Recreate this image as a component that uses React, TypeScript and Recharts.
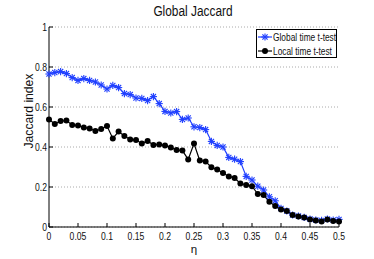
import React from 'react';
import { LineChart, Line, XAxis, YAxis, CartesianGrid } from 'recharts';

const eta = [0, 0.01, 0.02, 0.03, 0.04, 0.05, 0.06, 0.07, 0.08, 0.09, 0.1, 0.11, 0.12, 0.13, 0.14, 0.15, 0.16, 0.17, 0.18, 0.19, 0.2, 0.21, 0.22, 0.23, 0.24, 0.25, 0.26, 0.27, 0.28, 0.29, 0.3, 0.31, 0.32, 0.33, 0.34, 0.35, 0.36, 0.37, 0.38, 0.39, 0.4, 0.41, 0.42, 0.43, 0.44, 0.45, 0.46, 0.47, 0.48, 0.49, 0.5];

const globalT = [0.765, 0.772, 0.777, 0.767, 0.747, 0.733, 0.742, 0.733, 0.725, 0.71, 0.69, 0.708, 0.697, 0.667, 0.662, 0.645, 0.643, 0.632, 0.652, 0.617, 0.578, 0.57, 0.577, 0.538, 0.545, 0.501, 0.497, 0.487, 0.428, 0.408, 0.4, 0.348, 0.339, 0.327, 0.253, 0.235, 0.204, 0.185, 0.151, 0.131, 0.093, 0.08, 0.06, 0.055, 0.048, 0.04, 0.035, 0.033, 0.04, 0.035, 0.038];

const localT = [0.538, 0.515, 0.53, 0.532, 0.51, 0.508, 0.497, 0.493, 0.48, 0.49, 0.505, 0.443, 0.477, 0.455, 0.438, 0.435, 0.418, 0.43, 0.41, 0.413, 0.408, 0.397, 0.385, 0.382, 0.338, 0.417, 0.332, 0.327, 0.299, 0.287, 0.27, 0.253, 0.245, 0.218, 0.21, 0.204, 0.165, 0.16, 0.126, 0.105, 0.088, 0.08, 0.06, 0.052, 0.048, 0.037, 0.033, 0.028, 0.038, 0.03, 0.028];

const xTicks = [0, 0.05, 0.1, 0.15, 0.2, 0.25, 0.3, 0.35, 0.4, 0.45, 0.5];
const yTicks = [0, 0.2, 0.4, 0.6, 0.8, 1];
const seriesNames = ['Global time t-test', 'Local time t-test'];
const title = 'Global Jaccard';
const xLabel = 'η';
const yLabel = 'Jaccard index';

const data = eta.map((e, i) => ({ eta: e, g: globalT[i], l: localT[i] }));

const BLUE = '#1f3fff';
const FONT = '"Liberation Sans", Arial, sans-serif';
const SX = 0.82;

// narrow text: horizontally compressed around its anchor point
const NText = ({ x, y, anchor = 'start', size, children, dy = 0, sx = SX }: any) => (
  <text
    x={0}
    y={0}
    dy={dy}
    textAnchor={anchor}
    fontFamily={FONT}
    fontSize={size}
    fill="#111"
    transform={`translate(${x},${y}) scale(${sx},1)`}
  >
    {children}
  </text>
);

const XTick = (props: any) => {
  const { x, y, payload } = props;
  return <NText x={x} y={y} anchor="middle" size={10.5} dy={8}>{String(payload.value)}</NText>;
};

const YTick = (props: any) => {
  const { x, y, payload } = props;
  return <NText x={x} y={y} anchor="end" size={10.5} dy={3.8}>{String(payload.value)}</NText>;
};

const Star = (props: any) => {
  const { cx, cy } = props;
  if (cx == null || cy == null) return <g />;
  const r = 3.6;
  const d = r * 0.72;
  return (
    <g stroke={BLUE} strokeWidth={1.1}>
      <line x1={cx - r} y1={cy} x2={cx + r} y2={cy} />
      <line x1={cx} y1={cy - r} x2={cx} y2={cy + r} />
      <line x1={cx - d} y1={cy - d} x2={cx + d} y2={cy + d} />
      <line x1={cx - d} y1={cy + d} x2={cx + d} y2={cy - d} />
    </g>
  );
};

const Dot = (props: any) => {
  const { cx, cy } = props;
  if (cx == null || cy == null) return <g />;
  return <circle cx={cx} cy={cy} r={3} fill="#000" stroke="none" />;
};

export default function App() {
  return (
    <div style={{ position: 'absolute', left: 0, top: 0, width: 374, height: 259, background: '#fff' }}>
      <LineChart
        width={374}
        height={259}
        data={data}
        margin={{ top: 27, right: 35, left: 0, bottom: 0 }}
      >
        <CartesianGrid vertical={false} stroke="#aaa" strokeDasharray="1 2" />
        <XAxis
          dataKey="eta"
          type="number"
          domain={[0, 0.5]}
          ticks={xTicks}
          height={32}
          tickSize={-4}
          tickMargin={9}
          stroke="#000"
          tick={<XTick />}
          interval={0}
        />
        <XAxis
          xAxisId="t"
          orientation="top"
          dataKey="eta"
          type="number"
          domain={[0, 0.5]}
          ticks={xTicks}
          height={0}
          tickSize={-4}
          stroke="#000"
          tick={() => <g />}
          interval={0}
        />
        <YAxis
          type="number"
          domain={[0, 1]}
          ticks={yTicks}
          width={49}
          tickSize={-4}
          tickMargin={6}
          stroke="#000"
          tick={<YTick />}
          interval={0}
        />
        <YAxis
          yAxisId="r"
          orientation="right"
          type="number"
          domain={[0, 1]}
          ticks={yTicks}
          width={0}
          tickSize={-4}
          stroke="#000"
          tick={() => <g />}
          interval={0}
        />
        <Line
          dataKey="g"
          name={seriesNames[0]}
          stroke={BLUE}
          strokeWidth={1.2}
          dot={<Star />}
          isAnimationActive={false}
        />
        <Line
          dataKey="l"
          name={seriesNames[1]}
          stroke="#000"
          strokeWidth={1.2}
          dot={<Dot />}
          isAnimationActive={false}
        />
      </LineChart>
      <svg
        width={374}
        height={259}
        style={{ position: 'absolute', left: 0, top: 0, pointerEvents: 'none' }}
      >
        <NText x={193} y={16} anchor="middle" size={14.5}>{title}</NText>
        <text
          x={0}
          y={0}
          transform="translate(33,111) rotate(-90) scale(0.9,1)"
          textAnchor="middle"
          fontFamily={FONT}
          fontSize={13.5}
          fill="#111"
        >
          {yLabel}
        </text>
        <text x={194} y={253} textAnchor="middle" fontFamily={FONT} fontSize={11.5} fill="#111">
          {xLabel}
        </text>
        <g>
          <rect x={256.5} y={29.5} width={80} height={28} fill="#fff" stroke="#000" strokeWidth={1} />
          <line x1={258} y1={37} x2={272} y2={37} stroke={BLUE} strokeWidth={1.2} />
          <Star cx={265} cy={37} />
          <NText x={273} y={41} size={10.2}>{seriesNames[0]}</NText>
          <line x1={258} y1={51} x2={272} y2={51} stroke="#000" strokeWidth={1.2} />
          <Dot cx={265} cy={51} />
          <NText x={273} y={55} size={10.2}>{seriesNames[1]}</NText>
        </g>
      </svg>
    </div>
  );
}
